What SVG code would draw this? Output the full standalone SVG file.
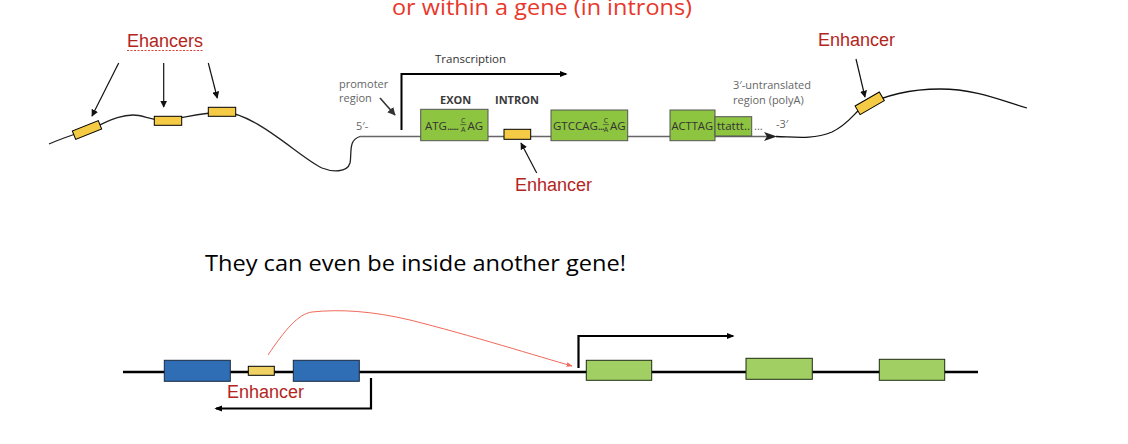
<svg xmlns="http://www.w3.org/2000/svg" width="1128" height="444" viewBox="0 0 1128 444">
<style>
.red{font-family:"Liberation Sans",Arial,sans-serif;font-size:18px;fill:#b3261e}
.gray{font-family:"Open Sans","Liberation Sans",sans-serif;font-size:11px;fill:#666}
.dk{font-family:"Open Sans","Liberation Sans",sans-serif;font-size:11.5px;fill:#333}
.hd{font-family:"Open Sans","Liberation Sans",sans-serif;font-size:11px;font-weight:bold;fill:#3a3a3a}
.big{font-family:"Open Sans","Liberation Sans",sans-serif;fill:#000}
.ex{fill:#8dc440;stroke:#555;stroke-width:1}
.enh{fill:#f5cb45;stroke:#000;stroke-width:1}
.blue{fill:#2f6db5;stroke:#1a2a40;stroke-width:1}
.grn{fill:#a1cf63;stroke:#1f2d12;stroke-width:1}
.frac{font-family:"Open Sans","Liberation Sans",sans-serif;font-size:7px;fill:#333}
</style>
<defs>
<marker id="ah" viewBox="0 0 10 10" refX="9" refY="5" markerWidth="7" markerHeight="7" markerUnits="userSpaceOnUse" orient="auto"><path d="M0,0 L10,5 L0,10 z" fill="#111"/></marker>
<marker id="ahg" viewBox="0 0 10 10" refX="9" refY="5" markerWidth="8" markerHeight="8" markerUnits="userSpaceOnUse" orient="auto"><path d="M0,0 L10,5 L0,10 z" fill="#333"/></marker>
<marker id="ahb" viewBox="0 0 10 10" refX="8" refY="5" markerWidth="8" markerHeight="8" markerUnits="userSpaceOnUse" orient="auto"><path d="M0,1 L10,5 L0,9 z" fill="#000"/></marker>
<marker id="ahr" viewBox="0 0 10 10" refX="9" refY="5" markerWidth="6" markerHeight="6" markerUnits="userSpaceOnUse" orient="auto"><path d="M0,1 L10,5 L0,9 z" fill="#f06a5a"/></marker>
</defs>

<text x="392" y="15" font-family="Open Sans, Liberation Sans, sans-serif" font-size="22" fill="#e8372b" textLength="300" lengthAdjust="spacingAndGlyphs">or within a gene (in introns)</text>

<g id="connectors" fill="none">
  <path d="M49,144 C60,139 72,135 87,130 C104,124 117,115 133,115 C143,115 148,119 160,120 C178,120 196,113 222,112 C255,112 300,158 322,168 C332,172 347,173 350,163 C352,153 348,140 360,136.5" stroke="#222" stroke-width="1.3"/>
  <path d="M360,136.5 L770,136.5" stroke="#666" stroke-width="1.6"/>
  <path d="M776,136.5 C795,137 812,140 832,132 C847,125 853,115 862,107 C885,95 910,89 940,89 C975,89 1000,100 1027,108" stroke="#111" stroke-width="1.3"/>
  <path d="M118.7,63 L92,116" stroke="#111" stroke-width="1.2" marker-end="url(#ah)"/>
  <path d="M163.7,63 L163.7,107" stroke="#111" stroke-width="1.2" marker-end="url(#ah)"/>
  <path d="M208.3,63 L217.3,98" stroke="#111" stroke-width="1.2" marker-end="url(#ah)"/>
  <path d="M380,98 L395,115" stroke="#333" stroke-width="1.6" marker-end="url(#ahg)"/>
  <path d="M401.5,130 V74 H566" stroke="#000" stroke-width="2" marker-end="url(#ahb)"/>
  <path d="M536.7,173 L521,143" stroke="#111" stroke-width="1.2" marker-end="url(#ah)"/>
  <path d="M856,59 L865,97" stroke="#111" stroke-width="1.2" marker-end="url(#ah)"/>
  <path d="M123,372 H978" stroke="#000" stroke-width="2.5"/>
  <path d="M371,378 V408.5 H216" stroke="#000" stroke-width="2.2" marker-end="url(#ahb)"/>
  <path d="M578.5,368 V336 H733" stroke="#000" stroke-width="2.2" marker-end="url(#ahb)"/>
  <path d="M268,355 C285,330 298,314 312,312 C340,309 372,311 410,320 C470,335 540,357 572,366" stroke="#f06a5a" stroke-width="1" marker-end="url(#ahr)"/>
</g>
<path d="M764,132 L777,136.5 L764,141 L767,136.5 z" fill="#222"/>

<g id="label-ehancers">
  <text x="127" y="47" class="red">Ehancers</text>
  <line x1="127" y1="50.5" x2="204" y2="50.5" stroke="#e0403a" stroke-width="1.2" stroke-dasharray="2,1.5"/>
</g>
<g id="enh-1"><rect x="73" y="125.5" width="28" height="9" class="enh" transform="rotate(-22 87 130)"/></g>
<g id="enh-2"><rect x="154.3" y="116.3" width="27.4" height="9" class="enh"/></g>
<g id="enh-3"><rect x="208.3" y="107.3" width="27.4" height="9" class="enh"/></g>

<g id="promoter">
  <text x="339" y="88" class="gray">promoter</text>
  <text x="339" y="102" class="gray">region</text>
</g>
<text x="356" y="130" class="gray">5′-</text>
<text x="435" y="63" class="dk" font-size="10" fill="#000">Transcription</text>
<text x="440" y="104" class="hd">EXON</text>
<text x="495" y="104" class="hd">INTRON</text>

<g id="exon-1">
  <rect x="420.7" y="109.3" width="67.3" height="31.4" class="ex"/>
  <text x="425" y="130" class="dk">ATG<tspan letter-spacing="-1.2">......</tspan></text>
  <text x="463.3" y="122.5" class="frac" text-anchor="middle">C</text>
  <line x1="460.3" y1="124.6" x2="466.3" y2="124.6" stroke="#333" stroke-width="0.6"/>
  <text x="463.3" y="132" class="frac" text-anchor="middle">A</text>
  <text x="467.5" y="130" class="dk" font-size="12.5">AG</text>
</g>
<g id="enh-intron"><rect x="504" y="129.3" width="26.7" height="10" class="enh"/></g>
<g id="exon-2">
  <rect x="551" y="110" width="76.7" height="30.7" class="ex"/>
  <text x="553" y="130" class="dk">GTCCAG<tspan letter-spacing="-1">...</tspan></text>
  <text x="606" y="122.5" class="frac" text-anchor="middle">C</text>
  <line x1="603" y1="124.6" x2="609" y2="124.6" stroke="#333" stroke-width="0.6"/>
  <text x="606" y="132" class="frac" text-anchor="middle">A</text>
  <text x="610" y="130" class="dk" font-size="12.5">AG</text>
</g>
<g id="exon-3">
  <rect x="670" y="110" width="45" height="30.7" class="ex"/>
  <text x="671.5" y="130" class="dk" textLength="41.5" lengthAdjust="spacingAndGlyphs">ACTTAG</text>
  <rect x="715" y="116.7" width="36.7" height="19.3" class="ex"/>
  <text x="717" y="130" class="dk" font-size="10.5" textLength="33" lengthAdjust="spacingAndGlyphs">ttattt..</text>
</g>
<text x="754" y="130" class="gray" font-size="9">...</text>
<text x="776" y="128" class="gray">-3′</text>
<g id="utr">
  <text x="733" y="89" class="gray" textLength="78" lengthAdjust="spacingAndGlyphs">3′-untranslated</text>
  <text x="733" y="104" class="gray">region (polyA)</text>
</g>
<text x="515" y="191" class="red">Enhancer</text>

<g id="enh-right">
  <text x="818" y="46" class="red">Enhancer</text>
  <rect x="855.7" y="98.3" width="28" height="10" class="enh" transform="rotate(-30 869.7 103.3)"/>
</g>

<text x="205" y="271" class="big" font-size="21" textLength="421" lengthAdjust="spacingAndGlyphs">They can even be inside another gene!</text>

<g id="blue-1"><rect x="164.3" y="360.3" width="66" height="21" class="blue"/></g>
<g id="enh-bottom">
  <rect x="248.3" y="366.3" width="26" height="9" fill="#f0d264" stroke="#000" stroke-width="1"/>
  <text x="227" y="397.5" class="red">Enhancer</text>
</g>
<g id="blue-2"><rect x="293.3" y="360.3" width="66" height="21" class="blue"/></g>
<g id="green-1"><rect x="586.3" y="360.3" width="65.4" height="20" class="grn"/></g>
<g id="green-2"><rect x="746" y="358.3" width="66.3" height="21" class="grn"/></g>
<g id="green-3"><rect x="879.3" y="359.3" width="65.4" height="21" class="grn"/></g>
</svg>
